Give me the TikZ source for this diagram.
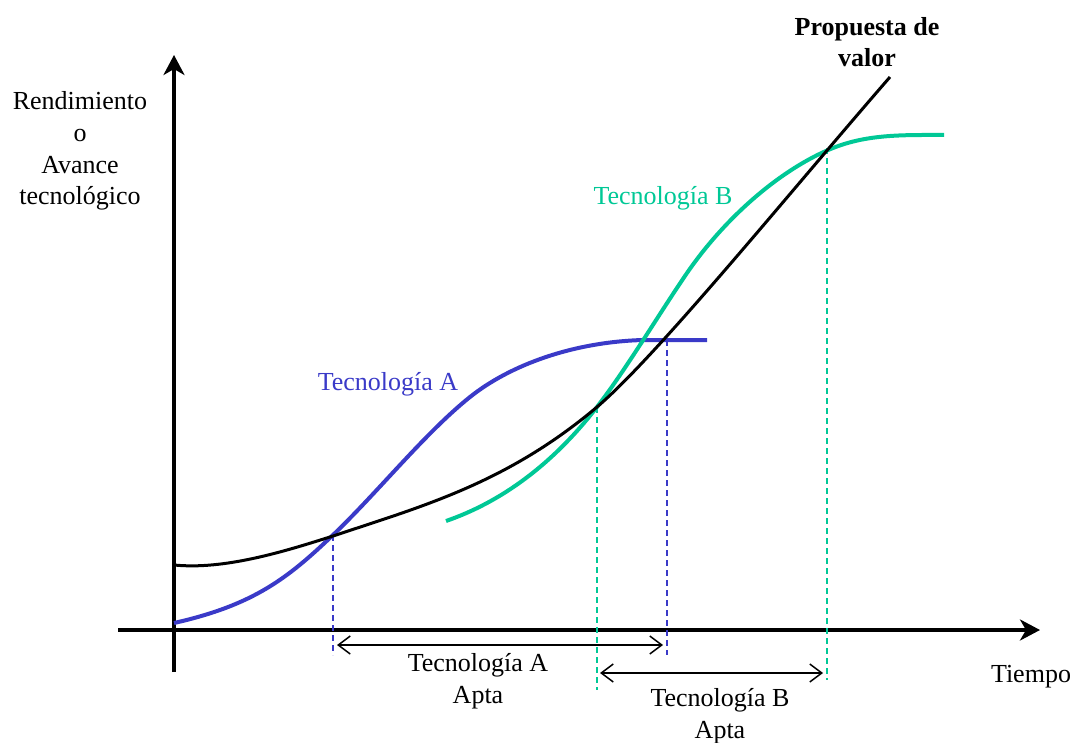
\documentclass[tikz,border=0pt]{standalone}
\usepackage{fontspec}
\setmainfont{Liberation Serif}
\usetikzlibrary{arrows.meta}
\definecolor{techA}{RGB}{58,58,200}
\definecolor{techB}{RGB}{0,200,150}
\tikzset{
  axis/.style={line width=4pt,-{Stealth[length=20pt,width=21pt,inset=6pt]}},
  valor/.style={line width=3pt,black},
  curveA/.style={line width=4pt,techA},
  curveB/.style={line width=4pt,techB},
  guideA/.style={line width=1.1pt,techA,dash pattern=on 6pt off 4pt},
  guideB/.style={line width=1.1pt,techB,dash pattern=on 6pt off 4pt},
  span/.style={line width=1.5pt,{Straight Barb[length=12pt,width=18pt,line width=1.5pt]}-{Straight Barb[length=12pt,width=18pt,line width=1.5pt]}},
  lbl/.style={font=\fontsize{26}{31.7}\selectfont,align=center,inner sep=0pt}
}
\begin{document}
\begin{tikzpicture}[x=1pt,y=-1pt]
\useasboundingbox (0,0) rectangle (1076,743);
% axes
\coordinate (ybot) at (174,672);
\coordinate (ytop) at (174,55);
\coordinate (xl) at (118,630);
\coordinate (xr) at (1040,630);
\draw[axis] (ybot) -- (ytop);
\draw[axis] (xl) -- (xr);
% intersection points
\coordinate (pA1) at (333,535);
\coordinate (pB1) at (597,407);
\coordinate (pA2) at (667,340);
\coordinate (pB2) at (827,148);
\coordinate (qA1) at (333,655);
\coordinate (qB1) at (597,690);
\coordinate (qA2) at (667,655);
\coordinate (qB2) at (827,680);
% guides
\draw[guideA] (pA1) -- (qA1);
\draw[guideA] (pA2) -- (qA2);
\draw[guideB] (pB1) -- (qB1);
\draw[guideB] (pB2) -- (qB2);
% curve A
\coordinate (a0) at (174,623);
\coordinate (a2) at (470,397);
\coordinate (a3) at (643,340);
\coordinate (a4) at (707,340);
\draw[curveA] (a0) .. controls (254,605) and (288,578) .. (pA1)
  .. controls (378,492) and (425,433) .. (a2)
  .. controls (510,365) and (573,342) .. (a3) -- (a4);
% curve B
\coordinate (b0) at (446,521);
\coordinate (b2) at (687,273);
\coordinate (b4) at (944,135);
\draw[curveB] (b0) .. controls (501,502) and (552,465) .. (pB1)
  .. controls (627,368) and (657,317) .. (b2)
  .. controls (727,215) and (783,168) .. (833,148)
  .. controls (868,134) and (904,135) .. (b4);
% propuesta de valor
\coordinate (v0) at (174,565);
\coordinate (v3) at (890,77);
\draw[valor] (v0) .. controls (224,570) and (283,552) .. (333,536)
  .. controls (423,506) and (507,483) .. (597,407)
  .. controls (657,356) and (790,192) .. (v3);
% spans
\coordinate (sA1) at (337,645);
\coordinate (sA2) at (663,645);
\coordinate (sB1) at (600,673);
\coordinate (sB2) at (823,673);
\draw[span] (sA1) -- (sA2);
\draw[span] (sB1) -- (sB2);
% labels
\node[lbl] (ylab) at (80,151) {Rendimiento\\o\\Avance\\tecnológico};
\node[lbl] (tlab) at (1031,677) {Tiempo};
\node[lbl,font=\fontsize{26}{31}\selectfont\bfseries] (vlab) at (867,42) {Propuesta de\\valor};
\node[lbl,text=techA] (alab) at (388,384) {Tecnología A};
\node[lbl,text=techB] (blab) at (663,198) {Tecnología B};
\node[lbl] (aapt) at (478,681) {Tecnología A\\Apta};
\node[lbl] (bapt) at (720,716) {Tecnología B\\Apta};
\end{tikzpicture}
\end{document}
